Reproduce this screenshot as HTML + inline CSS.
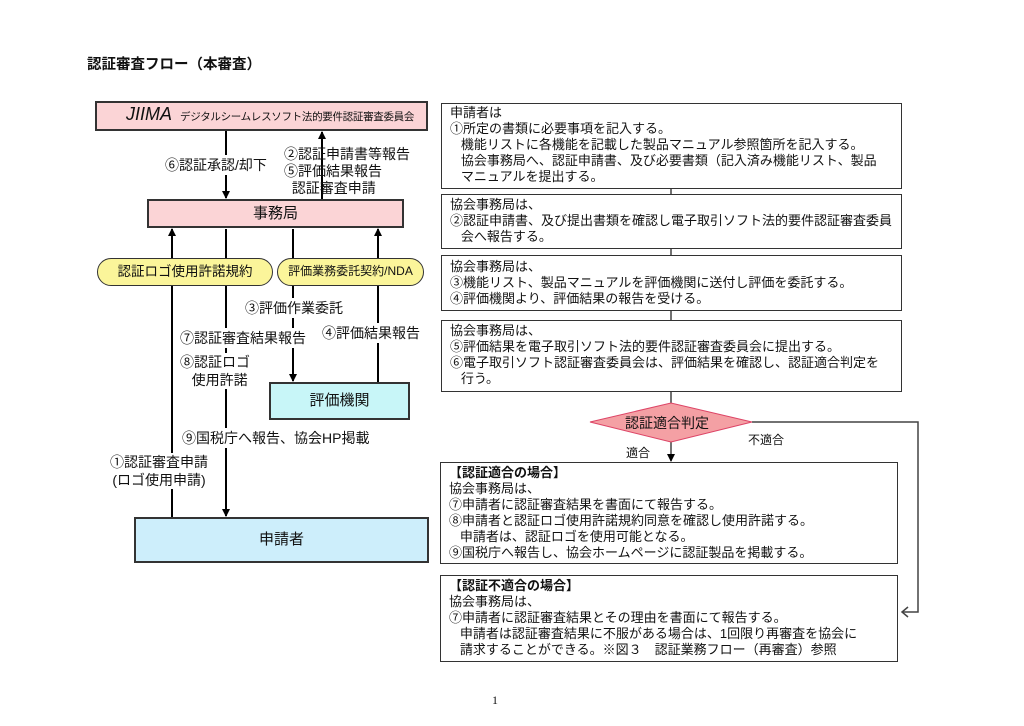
<!DOCTYPE html>
<html><head><meta charset="utf-8"><style>
body{margin:0;width:1024px;height:726px;background:#fff;position:relative;overflow:hidden;font-family:"Liberation Sans","Noto Sans CJK JP",sans-serif;color:#111}
.a{position:absolute;white-space:nowrap}
.b{position:absolute;box-sizing:border-box;border:1.5px solid #333}
.t{font-size:13px;line-height:16px;padding:0 0 0 8px;background:#fff;white-space:nowrap}
.l{font-size:14px;background:#fff;padding:0 1px}
</style></head><body>
<div class="a" style="left:87px;top:53px;font-size:14.5px;font-weight:bold">認証審査フロー（本審査）</div>

<svg width="1024" height="726" style="position:absolute;left:0;top:0">
<defs><marker id="ar" markerWidth="8" markerHeight="8" refX="4" refY="7" orient="0" markerUnits="userSpaceOnUse"><path d="M0,0 L8,0 L4,8z" fill="#000"/></marker>
<marker id="au" markerWidth="8" markerHeight="8" refX="4" refY="1" orient="0" markerUnits="userSpaceOnUse"><path d="M0,8 L8,8 L4,0z" fill="#000"/></marker></defs>
<g stroke="#000" stroke-width="2" fill="none">
<line x1="226" y1="131" x2="226" y2="198" marker-end="url(#ar)"/>
<line x1="322" y1="199" x2="322" y2="132" marker-end="url(#au)"/>
<line x1="172" y1="517" x2="172" y2="229" marker-end="url(#au)"/>
<line x1="226" y1="229" x2="226" y2="516" marker-end="url(#ar)"/>
<line x1="293" y1="229" x2="293" y2="381" marker-end="url(#ar)"/>
<line x1="378" y1="382" x2="378" y2="229" marker-end="url(#au)"/>
</g>
<g stroke="#444" stroke-width="1.5" fill="none">
<line x1="671" y1="189" x2="671" y2="405"/>
<line x1="671" y1="440" x2="671" y2="461" marker-end="url(#ar)"/>
<polyline points="752,422 918,422 918,612 902,612"/>
<polyline points="908,607 902,612 908,617"/>
</g>
<polygon points="590,422 671,403 752,422 671,442" fill="#f4a0a4" stroke="#d46" stroke-width="1"/>
</svg>

<div class="b" style="left:95px;top:101px;width:333px;height:30px;background:#fbd4d6;border-width:2px"></div>
<div class="a" style="left:126px;top:104px;font-size:18px;font-style:italic">JIIMA</div>
<div class="a" style="left:180px;top:109px;font-size:10.5px;letter-spacing:-0.3px">デジタルシームレスソフト法的要件認証審査委員会</div>
<div class="b" style="left:147px;top:199px;width:257px;height:29px;background:#fbd4d6;border-width:2px;text-align:center;font-size:15px;line-height:25px">事務局</div>
<div class="b" style="left:97px;top:258px;width:176px;height:28px;border-radius:14px;background:#fbf59a;text-align:center;font-size:13.5px;line-height:25px">認証ロゴ使用許諾規約</div>
<div class="b" style="left:277px;top:258px;width:147px;height:28px;border-radius:14px;background:#fbf59a;text-align:center;font-size:12px;line-height:25px">評価業務委託契約/NDA</div>
<div class="b" style="left:269px;top:382px;width:141px;height:38px;background:#c8f6f8;border-width:2px;text-align:center;font-size:15px;line-height:34px">評価機関</div>
<div class="b" style="left:134px;top:517px;width:295px;height:46px;background:#cdeefb;border-width:2px;text-align:center;font-size:15px;line-height:42px">申請者</div>

<div class="a l" style="left:164px;top:155px">⑥認証承認/却下</div>
<div class="a l" style="left:283px;top:146px;line-height:17px;background:none">②認証申請書等報告<br>⑤評価結果報告<br>&nbsp;&nbsp;認証審査申請</div>
<div class="a l" style="left:244px;top:298px">③評価作業委託</div>
<div class="a l" style="left:179px;top:328px">⑦認証審査結果報告</div>
<div class="a l" style="left:321px;top:323px">④評価結果報告</div>
<div class="a l" style="left:179px;top:353px;line-height:18px">⑧認証ロゴ<br>&nbsp;&nbsp;&nbsp;使用許諾</div>
<div class="a l" style="left:181px;top:428px">⑨国税庁へ報告、協会HP掲載</div>
<div class="a l" style="left:109px;top:453px;line-height:18px;text-align:center">①認証審査申請<br>(ロゴ使用申請)</div>

<div class="b t" style="left:441px;top:103px;width:461px;height:86px;padding-top:1px">申請者は<br>①所定の書類に必要事項を記入する。<br>&nbsp;&nbsp;&nbsp;機能リストに各機能を記載した製品マニュアル参照箇所を記入する。<br>&nbsp;&nbsp;&nbsp;協会事務局へ、認証申請書、及び必要書類（記入済み機能リスト、製品<br>&nbsp;&nbsp;&nbsp;マニュアルを提出する。</div>
<div class="b t" style="left:441px;top:194px;width:461px;height:55px;padding-top:2px">協会事務局は、<br>②認証申請書、及び提出書類を確認し電子取引ソフト法的要件認証審査委員<br>&nbsp;&nbsp;&nbsp;会へ報告する。</div>
<div class="b t" style="left:441px;top:255px;width:461px;height:56px;padding-top:3px">協会事務局は、<br>③機能リスト、製品マニュアルを評価機関に送付し評価を委託する。<br>④評価機関より、評価結果の報告を受ける。</div>
<div class="b t" style="left:441px;top:320px;width:461px;height:72px;padding-top:2px">協会事務局は、<br>⑤評価結果を電子取引ソフト法的要件認証審査委員会に提出する。<br>⑥電子取引ソフト認証審査委員会は、評価結果を確認し、認証適合判定を<br>&nbsp;&nbsp;&nbsp;行う。</div>
<div class="a" style="left:625px;top:413px;font-size:14px">認証適合判定</div>
<div class="a" style="left:626px;top:444px;font-size:12px">適合</div>
<div class="a" style="left:748px;top:431px;font-size:12px">不適合</div>
<div class="b t" style="left:440px;top:462px;width:458px;height:102px;padding-top:2px"><b>【認証適合の場合】</b><br>協会事務局は、<br>⑦申請者に認証審査結果を書面にて報告する。<br>⑧申請者と認証ロゴ使用許諾規約同意を確認し使用許諾する。<br>&nbsp;&nbsp;&nbsp;申請者は、認証ロゴを使用可能となる。<br>⑨国税庁へ報告し、協会ホームページに認証製品を掲載する。</div>
<div class="b t" style="left:440px;top:575px;width:458px;height:87px;padding-top:2px"><b>【認証不適合の場合】</b><br>協会事務局は、<br>⑦申請者に認証審査結果とその理由を書面にて報告する。<br>&nbsp;&nbsp;&nbsp;申請者は認証審査結果に不服がある場合は、1回限り再審査を協会に<br>&nbsp;&nbsp;&nbsp;請求することができる。※図３　認証業務フロー（再審査）参照</div>
<div class="a" style="left:492px;top:693px;font-size:12px;font-family:'Liberation Serif',serif">1</div>
</body></html>
